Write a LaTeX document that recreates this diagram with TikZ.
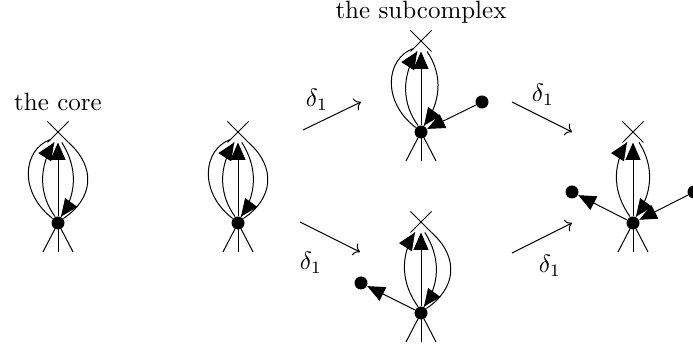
\documentclass[tikz,border=0pt]{standalone}
\usetikzlibrary{arrows.meta,shapes.misc,decorations.markings}
\begin{document}
\begin{tikzpicture}[x=0.4pt, y=0.4pt,
  vtx/.style={circle, fill, inner sep=0pt, minimum size=5.2pt},
  xmark/.style={cross out, draw, inner sep=0pt, minimum size=8pt},
  tip/.style={-{Triangle[length=7pt, width=6pt]}},
  flow/.style={postaction={decorate}, decoration={markings,
    mark=at position 1 with {\arrow{Triangle[length=7pt, width=6pt]}}}},
  dmap/.style={->}]
  \useasboundingbox (0,0) rectangle (693,350);
  % the core
  \node (core) at (58,248) {the core};
  \begin{scope}[shift={(58,127)}]
    \node[vtx] (d1) at (0,0) {};
    \node[xmark] (x1) at (0,91) {};
    \foreach \dx/\k in {-15/a,0/b,15/c} {\coordinate (f1\k) at (\dx,-29); \draw (d1.center) -- (f1\k);}
    \draw[tip] (d1) -- (x1);
    \draw[flow] (d1.140) .. controls +(-34,26) and +(-28,-10) .. ([shift={(3,3)}]x1.225);
    \draw[flow] (d1.115) .. controls +(-16,22) and +(-16,-25) .. (x1.250);
    \draw[flow] (x1.290) .. controls +(16,-25) and +(16,22) .. (d1.65);
    \draw[flow] (x1.315) .. controls +(28,-25) and +(30,20) .. (d1.40);
  \end{scope}
  % starting graph
  \begin{scope}[shift={(238,127)}]
    \node[vtx] (d2) at (0,0) {};
    \node[xmark] (x2) at (0,91) {};
    \foreach \dx/\k in {-15/a,0/b,15/c} {\coordinate (f2\k) at (\dx,-29); \draw (d2.center) -- (f2\k);}
    \draw[tip] (d2) -- (x2);
    \draw[flow] (d2.140) .. controls +(-34,26) and +(-28,-10) .. ([shift={(3,3)}]x2.225);
    \draw[flow] (d2.115) .. controls +(-16,22) and +(-16,-25) .. (x2.250);
    \draw[flow] (x2.290) .. controls +(16,-25) and +(16,22) .. (d2.65);
    \draw[flow] (x2.315) .. controls +(28,-25) and +(30,20) .. (d2.40);
  \end{scope}
  % the subcomplex (upper)
  \node (sub) at (421,338) {the subcomplex};
  \begin{scope}[shift={(421,218)}]
    \node[vtx] (d3) at (0,0) {};
    \node[xmark] (x3) at (0,91) {};
    \node[vtx] (e3) at (61,30) {};
    \foreach \dx/\k in {-15/a,0/b,15/c} {\coordinate (f3\k) at (\dx,-29); \draw (d3.center) -- (f3\k);}
    \draw[tip] (d3) -- (x3);
    \draw[flow] (d3.140) .. controls +(-34,26) and +(-28,-10) .. ([shift={(3,3)}]x3.225);
    \draw[flow] (d3.115) .. controls +(-16,22) and +(-16,-25) .. (x3.250);
    \draw[flow] (x3.300) .. controls +(17,-25) and +(16,22) .. (d3.65);
    \draw[tip] (e3) -- (d3);
  \end{scope}
  % lower graph
  \begin{scope}[shift={(421,37)}]
    \node[vtx] (d4) at (0,0) {};
    \node[xmark] (x4) at (0,91) {};
    \node[vtx] (e4) at (-60,30) {};
    \foreach \dx/\k in {-15/a,0/b,15/c} {\coordinate (f4\k) at (\dx,-29); \draw (d4.center) -- (f4\k);}
    \draw[tip] (d4) -- (x4);
    \draw[flow] (d4.115) .. controls +(-16,22) and +(-16,-25) .. (x4.240);
    \draw[flow] (x4.290) .. controls +(16,-25) and +(16,22) .. (d4.65);
    \draw[flow] (x4.315) .. controls +(28,-25) and +(30,20) .. (d4.40);
    \draw[tip] (d4) -- (e4);
  \end{scope}
  % final graph
  \begin{scope}[shift={(633,127)}]
    \node[vtx] (d5) at (0,0) {};
    \node[xmark] (x5) at (0,91) {};
    \node[vtx] (e5) at (-61,31) {};
    \node[vtx] (g5) at (61,31) {};
    \foreach \dx/\k in {-15/a,0/b,15/c} {\coordinate (f5\k) at (\dx,-29); \draw (d5.center) -- (f5\k);}
    \draw[tip] (d5) -- (x5);
    \draw[flow] (d5.115) .. controls +(-16,22) and +(-16,-25) .. (x5.240);
    \draw[flow] (x5.300) .. controls +(16,-25) and +(16,22) .. (d5.65);
    \draw[tip] (d5) -- (e5);
    \draw[tip] (g5) -- (d5);
  \end{scope}
  % the maps delta_1
  \coordinate (m1s) at (303,220); \coordinate (m1e) at (361,248);
  \coordinate (m2s) at (300,128); \coordinate (m2e) at (360,98);
  \coordinate (m3s) at (512,248); \coordinate (m3e) at (572,218);
  \coordinate (m4s) at (512,97);  \coordinate (m4e) at (572,127);
  \draw[dmap] (m1s) -- (m1e);
  \draw[dmap] (m2s) -- (m2e);
  \draw[dmap] (m3s) -- (m3e);
  \draw[dmap] (m4s) -- (m4e);
  \node (l1) at (317,250) {$\delta_1$};
  \node (l2) at (311,87) {$\delta_1$};
  \node (l3) at (543,255) {$\delta_1$};
  \node (l4) at (550,84) {$\delta_1$};
\end{tikzpicture}
\end{document}
